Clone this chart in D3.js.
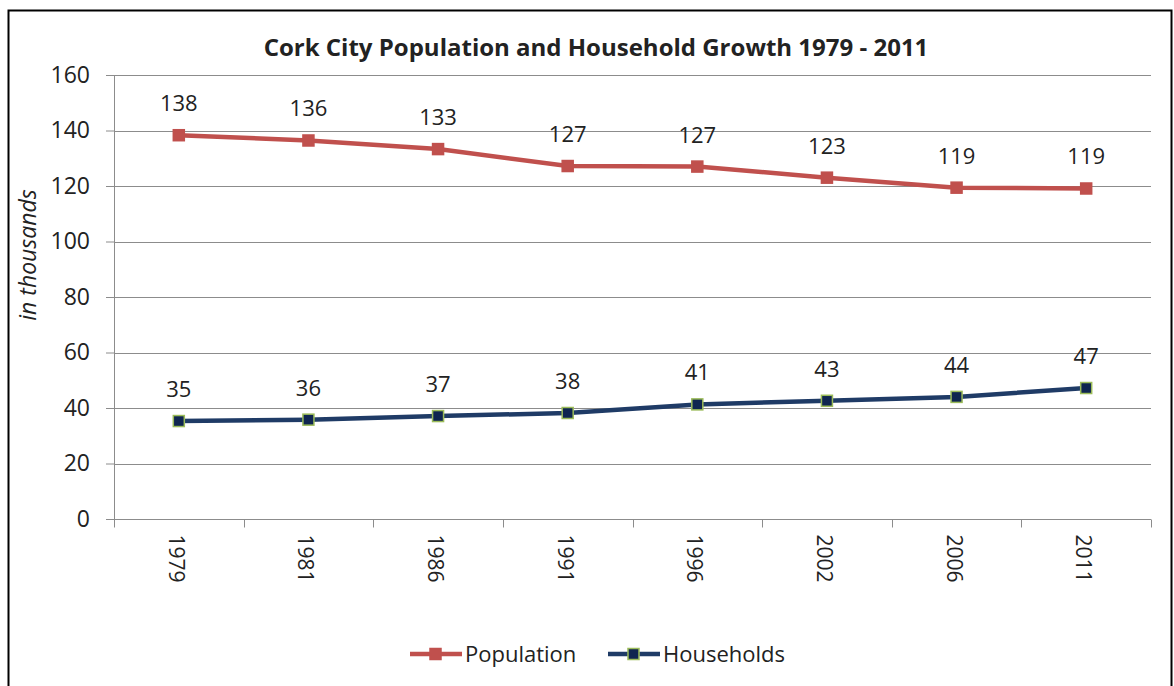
<!DOCTYPE html>
<html>
<head>
<meta charset="utf-8">
<script src="https://cdn.jsdelivr.net/npm/d3@7"></script>
<style>
  body { margin: 0; background: #fff; }
  text { font-family: "Open Sans", "Noto Sans", sans-serif; fill: #222; }
</style>
</head>
<body>
<div id="chart"></div>
<script>
// data
var years = ["1979", "1981", "1986", "1991", "1996", "2002", "2006", "2011"];
var population = [138.3, 136.4, 133.3, 127.2, 127.0, 123.0, 119.4, 119.1];
var households = [35.3, 35.8, 37.1, 38.2, 41.3, 42.6, 44.0, 47.2];
var popLabels = [138, 136, 133, 127, 127, 123, 119, 119];
var hhLabels = [35, 36, 37, 38, 41, 43, 44, 47];
var yTicks = [0, 20, 40, 60, 80, 100, 120, 140, 160];

var W = 1174, H = 686,
    margin = {top: 75, right: 23, bottom: 167, left: 114},
    width = W - margin.left - margin.right,
    height = H - margin.top - margin.bottom;

var series = [
  {name: "Population", values: population, labels: popLabels, stroke: "#C0504D", fill: "#C0504D", mstroke: "#C0504D"},
  {name: "Households", values: households, labels: hhLabels, stroke: "#1F3B66", fill: "#0F2550", mstroke: "#9BBB59"}
];

var svg = d3.select("#chart").append("svg")
    .attr("width", W)
    .attr("height", H);

// outer frame
svg.append("rect")
    .attr("x", 8.5).attr("y", 10.5)
    .attr("width", 1163).attr("height", 690)
    .attr("fill", "none").attr("stroke", "#000").attr("stroke-width", 2);

var g = svg.append("g")
    .attr("transform", "translate(" + margin.left + "," + margin.top + ")");

var x = d3.scaleBand().domain(years).range([0, width]);
var y = d3.scaleLinear().domain([0, 160]).range([height, 0]);

// gridlines
g.selectAll(".grid")
  .data(yTicks)
  .enter().append("line")
    .attr("class", "grid")
    .attr("x1", 0).attr("x2", width)
    .attr("y1", function(d) { return Math.round(y(d)) + 0.5; })
    .attr("y2", function(d) { return Math.round(y(d)) + 0.5; })
    .attr("stroke", "#8c8c8c").attr("stroke-width", 1);

// y axis
var yAxis = d3.axisLeft(y).tickValues(yTicks).tickSize(8).tickPadding(16);
var yg = g.append("g").call(yAxis);
yg.select(".domain").attr("stroke", "#8c8c8c").attr("d", "M0.5," + height + "V0");
yg.selectAll(".tick line").attr("stroke", "#8c8c8c");
yg.selectAll(".tick text").style("font-size", "23px").style("fill", "#222");

// x axis: ticks at band boundaries
var xg = g.append("g").attr("transform", "translate(0," + (Math.round(height) + 0.5) + ")");
xg.append("line").attr("x1", 0).attr("x2", width).attr("stroke", "#8c8c8c");
xg.selectAll(".xtick")
  .data(years.concat(["end"]))
  .enter().append("line")
    .attr("x1", function(d, i) { return Math.round(i * x.step()) + 0.5; })
    .attr("x2", function(d, i) { return Math.round(i * x.step()) + 0.5; })
    .attr("y1", 0).attr("y2", 8)
    .attr("stroke", "#8c8c8c");
xg.selectAll(".xlab")
  .data(years)
  .enter().append("text")
    .attr("transform", function(d) { return "translate(" + (x(d) + x.bandwidth() / 2 - 10) + ",15) rotate(90)"; })
    .attr("text-anchor", "start")
    .style("font-size", "21px")
    .text(function(d) { return d; });

// lines
var line = d3.line()
    .x(function(d, i) { return x(years[i]) + x.bandwidth() / 2; })
    .y(function(d) { return y(d); });

series.forEach(function(s) {
  g.append("path")
    .datum(s.values)
    .attr("fill", "none")
    .attr("stroke", s.stroke)
    .attr("stroke-width", 4.5)
    .attr("d", line);

  g.selectAll(null)
    .data(s.values)
    .enter().append("rect")
      .attr("x", function(d, i) { return x(years[i]) + x.bandwidth() / 2 - 5.5; })
      .attr("y", function(d) { return y(d) - 5.5; })
      .attr("width", 11).attr("height", 11)
      .attr("fill", s.fill)
      .attr("stroke", s.mstroke).attr("stroke-width", 1.5);

  g.selectAll(null)
    .data(s.values)
    .enter().append("text")
      .attr("x", function(d, i) { return x(years[i]) + x.bandwidth() / 2; })
      .attr("y", function(d) { return y(d) - 24; })
      .attr("text-anchor", "middle")
      .style("font-size", "22px")
      .text(function(d, i) { return s.labels[i]; });
});

// title
svg.append("text")
    .attr("x", 596).attr("y", 56)
    .attr("text-anchor", "middle")
    .style("font-size", "24px").style("font-weight", "bold")
    .text("Cork City Population and Household Growth 1979 - 2011");

// y axis label
svg.append("text")
    .attr("transform", "translate(36,255) rotate(-90)")
    .attr("text-anchor", "middle")
    .style("font-size", "23px").style("font-style", "italic")
    .text("in thousands");

// legend
var legend = svg.selectAll(".legend")
  .data(series)
  .enter().append("g")
    .attr("class", "legend")
    .attr("transform", function(d, i) { return "translate(" + (410 + i * 198) + ",654)"; });

legend.append("line")
    .attr("x1", 0).attr("x2", 52)
    .attr("stroke", function(d) { return d.stroke; })
    .attr("stroke-width", 4.5);
legend.append("rect")
    .attr("x", 20).attr("y", -5.5).attr("width", 11).attr("height", 11)
    .attr("fill", function(d) { return d.fill; })
    .attr("stroke", function(d) { return d.mstroke; }).attr("stroke-width", 1.5);
legend.append("text")
    .attr("x", 55).attr("dy", "0.35em")
    .style("font-size", "22px")
    .text(function(d) { return d.name; });
</script>
</body>
</html>
